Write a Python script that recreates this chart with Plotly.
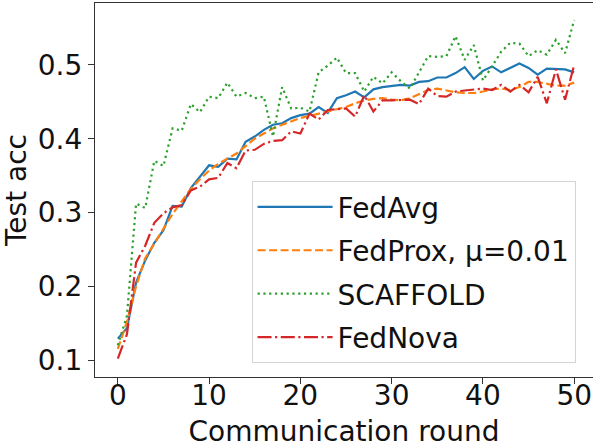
import plotly.graph_objects as go

rounds = list(range(51))

fedavg = [0.129, 0.143, 0.205, 0.235, 0.259, 0.276, 0.309, 0.308, 0.333, 0.348,
          0.364, 0.362, 0.373, 0.372, 0.396, 0.403, 0.412, 0.419, 0.421, 0.428,
          0.432, 0.434, 0.443, 0.435, 0.455, 0.459, 0.464, 0.456, 0.467, 0.470,
          0.472, 0.473, 0.472, 0.477, 0.478, 0.483, 0.483, 0.489, 0.497, 0.481,
          0.492, 0.498, 0.490, 0.496, 0.502, 0.496, 0.487, 0.495, 0.494, 0.494,
          0.490]

fedprox = [0.115, 0.152, 0.200, 0.238, 0.258, 0.278, 0.298, 0.315, 0.332, 0.345,
           0.357, 0.366, 0.373, 0.380, 0.390, 0.400, 0.407, 0.414, 0.419, 0.424,
           0.428, 0.431, 0.434, 0.437, 0.440, 0.443, 0.448, 0.452, 0.454, 0.455,
           0.453, 0.452, 0.455, 0.460, 0.466, 0.468, 0.465, 0.463, 0.462, 0.462,
           0.464, 0.467, 0.468, 0.466, 0.470, 0.477, 0.477, 0.475, 0.472, 0.472,
           0.476]

scaffold = [0.120, 0.160, 0.312, 0.306, 0.370, 0.363, 0.414, 0.411, 0.447, 0.436,
            0.457, 0.455, 0.476, 0.457, 0.462, 0.455, 0.457, 0.403, 0.470, 0.441,
            0.442, 0.437, 0.490, 0.499, 0.510, 0.489, 0.489, 0.464, 0.484, 0.475,
            0.490, 0.478, 0.468, 0.490, 0.512, 0.511, 0.512, 0.539, 0.507, 0.527,
            0.479, 0.498, 0.518, 0.530, 0.529, 0.512, 0.520, 0.514, 0.534, 0.516,
            0.561]

fednova = [0.102, 0.135, 0.232, 0.255, 0.286, 0.299, 0.307, 0.310, 0.330, 0.335,
           0.345, 0.347, 0.367, 0.360, 0.384, 0.385, 0.393, 0.397, 0.398, 0.410,
           0.407, 0.434, 0.426, 0.439, 0.440, 0.441, 0.430, 0.459, 0.437, 0.452,
           0.452, 0.452, 0.453, 0.447, 0.468, 0.458, 0.457, 0.464, 0.465, 0.466,
           0.468, 0.466, 0.473, 0.464, 0.473, 0.463, 0.484, 0.448, 0.494, 0.453,
           0.500]

names = ["FedAvg", "FedProx, μ=0.01", "SCAFFOLD", "FedNova"]
x_ticks = [0, 10, 20, 30, 40, 50]
y_ticks = [0.1, 0.2, 0.3, 0.4, 0.5]

series = [fedavg, fedprox, scaffold, fednova]
colors = ["#1f77b4", "#ff7f0e", "#2ca02c", "#d62728"]
dashes = ["solid", "8px,3.5px", "2.2px,3.6px", "14px,3.5px,2.2px,3.5px"]

fig = go.Figure()
for i, (ys, nm) in enumerate(zip(series, names)):
    fig.add_trace(go.Scatter(
        x=rounds, y=ys, mode="lines", name=nm,
        legendgroup=f"g{i}",
        line=dict(color=colors[i], width=2.2, dash=dashes[i]),
    ))

font_family = "DejaVu Sans"
fig.update_layout(
    width=593, height=448,
    margin=dict(l=95, r=0, t=3, b=71),
    paper_bgcolor="white", plot_bgcolor="white",
    font=dict(family=font_family, size=28, color="#111111"),
    showlegend=True,
    legend=dict(
        x=0.965, xanchor="right", y=0.037, yanchor="bottom",
        bgcolor="rgba(255,255,255,0.85)", bordercolor="#d4d4d4", borderwidth=1,
        font=dict(family=font_family, size=28, color="#111111"),
        itemwidth=75, tracegroupgap=4,
    ),
    xaxis=dict(
        range=[-2.5, 52.06], tickmode="array", tickvals=x_ticks,
        ticks="outside", ticklen=6, tickwidth=1.2, tickcolor="#333333",
        ticklabelstandoff=-13,
        showline=True, linecolor="#333333", linewidth=1.3, mirror=True,
        showgrid=False, zeroline=False,
        title=dict(text="Communication round", standoff=10,
                   font=dict(family=font_family, size=28)),
        tickfont=dict(family=font_family, size=28),
    ),
    yaxis=dict(
        range=[0.077, 0.584], tickmode="array", tickvals=y_ticks,
        ticktext=[f"{v:.1f}" for v in y_ticks],
        ticks="outside", ticklen=6, tickwidth=1.2, tickcolor="#333333",
        showline=True, linecolor="#333333", linewidth=1.3, mirror=False,
        showgrid=False, zeroline=False,
        title=dict(text="Test acc", standoff=6,
                   font=dict(family=font_family, size=28)),
        tickfont=dict(family=font_family, size=28),
    ),
)

fig.write_html("out.html")
